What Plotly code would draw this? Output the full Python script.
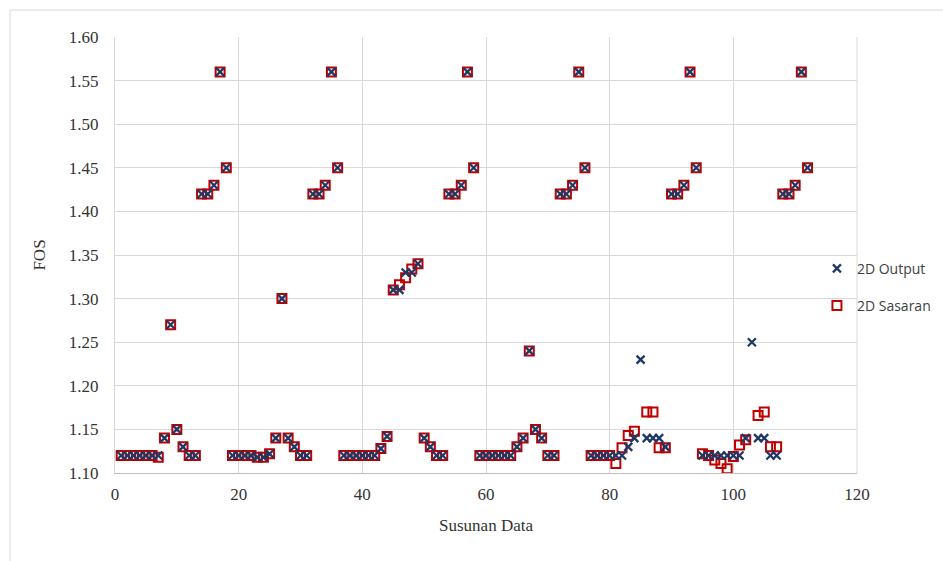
import plotly.graph_objects as go

# Data index 1..112
idx = list(range(1, 113))

output_2d = [
    # group 1 (1-18)
    1.12, 1.12, 1.12, 1.12, 1.12, 1.12, 1.12, 1.14, 1.27, 1.15, 1.13, 1.12, 1.12, 1.42, 1.42, 1.43, 1.56, 1.45,
    # group 2 (19-36)
    1.12, 1.12, 1.12, 1.12, 1.118, 1.118, 1.122, 1.14, 1.30, 1.14, 1.13, 1.12, 1.12, 1.42, 1.42, 1.43, 1.56, 1.45,
    # group 3 (37-58)
    1.12, 1.12, 1.12, 1.12, 1.12, 1.12, 1.128, 1.142, 1.31, 1.31, 1.33, 1.33, 1.34, 1.14, 1.13, 1.12, 1.12,
    1.42, 1.42, 1.43, 1.56, 1.45,
    # group 4 (59-76)
    1.12, 1.12, 1.12, 1.12, 1.12, 1.12, 1.13, 1.14, 1.24, 1.15, 1.14, 1.12, 1.12, 1.42, 1.42, 1.43, 1.56, 1.45,
    # group 5 (77-94)
    1.12, 1.12, 1.12, 1.12, 1.12, 1.12, 1.13, 1.14, 1.23, 1.14, 1.14, 1.14, 1.13, 1.42, 1.42, 1.43, 1.56, 1.45,
    # group 6 (95-112)
    1.12, 1.12, 1.12, 1.12, 1.12, 1.12, 1.12, 1.14, 1.25, 1.14, 1.14, 1.12, 1.12, 1.42, 1.42, 1.43, 1.56, 1.45,
]

sasaran_2d = [
    # group 1
    1.12, 1.12, 1.12, 1.12, 1.12, 1.12, 1.118, 1.14, 1.27, 1.15, 1.13, 1.12, 1.12, 1.42, 1.42, 1.43, 1.56, 1.45,
    # group 2
    1.12, 1.12, 1.12, 1.12, 1.118, 1.118, 1.122, 1.14, 1.30, 1.14, 1.13, 1.12, 1.12, 1.42, 1.42, 1.43, 1.56, 1.45,
    # group 3
    1.12, 1.12, 1.12, 1.12, 1.12, 1.12, 1.128, 1.142, 1.31, 1.316, 1.324, 1.334, 1.34, 1.14, 1.13, 1.12, 1.12,
    1.42, 1.42, 1.43, 1.56, 1.45,
    # group 4
    1.12, 1.12, 1.12, 1.12, 1.12, 1.12, 1.13, 1.14, 1.24, 1.15, 1.14, 1.12, 1.12, 1.42, 1.42, 1.43, 1.56, 1.45,
    # group 5
    1.12, 1.12, 1.12, 1.12, 1.111, 1.129, 1.143, 1.148, None, 1.17, 1.17, 1.129, 1.129, 1.42, 1.42, 1.43, 1.56, 1.45,
    # group 6
    1.122, 1.12, 1.115, 1.111, 1.105, 1.119, 1.132, 1.138, None, 1.166, 1.17, 1.13, 1.13, 1.42, 1.42, 1.43, 1.56, 1.45,
]

navy = "#1F3864"
red = "#C00000"
grid = "#D9D9D9"
serif = "Liberation Serif, Times New Roman, serif"
txt = "#333333"

fig = go.Figure()
fig.add_trace(go.Scatter(
    x=idx, y=sasaran_2d, mode="markers", name="2D Sasaran", legendgroup="b", legendrank=2,
    marker=dict(symbol="square-open", size=9, color=red, line=dict(width=2, color=red)),
))
fig.add_trace(go.Scatter(
    x=idx, y=output_2d, mode="markers", name="2D Output", legendgroup="a", legendrank=1,
    marker=dict(symbol="x-thin", size=8, color=navy, line=dict(width=2.3, color=navy)),
))

fig.update_layout(
    width=943, height=561,
    margin=dict(l=115, r=86, t=37, b=88, autoexpand=False),
    paper_bgcolor="white", plot_bgcolor="white",
    showlegend=True,
    legend=dict(
        x=0.946, xanchor="left", y=0.505, yanchor="top",
        font=dict(family="Open Sans, Liberation Sans, sans-serif", size=14, color="#404040"),
        traceorder="grouped", tracegroupgap=16,
        bgcolor="rgba(0,0,0,0)", itemwidth=30,
    ),
    xaxis=dict(
        range=[0, 120], dtick=20, tick0=0,
        showgrid=True, gridcolor=grid, gridwidth=1,
        showline=True, linecolor="#BFBFBF", linewidth=1, mirror=False,
        zeroline=False, ticks="",
        tickfont=dict(family=serif, size=17, color=txt),
        ticklabelstandoff=6,
        title=dict(text="Susunan Data", font=dict(family=serif, size=17, color=txt), standoff=15),
    ),
    yaxis=dict(
        range=[1.10, 1.60], dtick=0.05, tick0=1.10, tickformat=".2f",
        showgrid=True, gridcolor=grid, gridwidth=1,
        showline=True, linecolor=grid, linewidth=1,
        zeroline=False, ticks="",
        tickfont=dict(family=serif, size=17, color=txt),
        ticklabelstandoff=12,
        title=dict(text="FOS", font=dict(family=serif, size=17, color=txt), standoff=18),
    ),
)

# outer chart frame (top and left edges)
fig.add_shape(type="line", xref="paper", yref="paper",
              x0=(10 - 115) / 742, x1=(943 - 115) / 742, y0=(473 - 10) / 436, y1=(473 - 10) / 436,
              line=dict(color=grid, width=1))
fig.add_shape(type="line", xref="paper", yref="paper",
              x0=(10 - 115) / 742, x1=(10 - 115) / 742, y0=(473 - 10) / 436, y1=(473 - 561) / 436,
              line=dict(color=grid, width=1))
# right border of plot area
fig.add_shape(type="line", xref="paper", yref="paper", x0=1, x1=1, y0=0, y1=1,
              line=dict(color=grid, width=1))

fig.write_html("out.html")
